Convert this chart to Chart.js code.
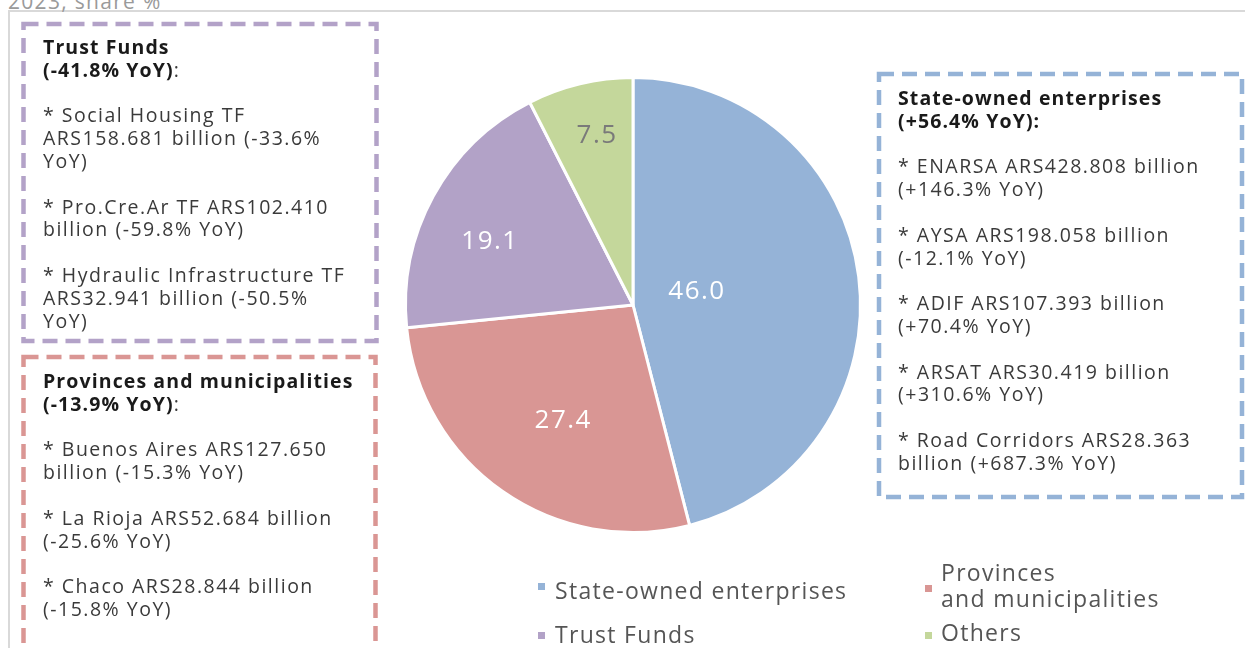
<!DOCTYPE html>
<html>
<head>
<meta charset="utf-8">
<script src="https://cdn.jsdelivr.net/npm/chart.js@4"></script>
<style>
  html, body { margin: 0; padding: 0; background: #fff; }
  body { width: 1245px; height: 648px; position: relative; overflow: hidden; font-family: "Open Sans", "Noto Sans", sans-serif; }
  #chartWrap { position: absolute; left: 0; top: 0; width: 1245px; height: 648px; }
  .frame { position: absolute; left: 8px; top: 10px; width: 1300px; height: 700px; border-left: 2px solid #d9d9d9; border-top: 2px solid #d9d9d9; }
  .subtitle { position: absolute; left: 8px; top: -13px; font-size: 21px; letter-spacing: 1.3px; color: #9a9a9a; }
  svg.boxes { position: absolute; left: 0; top: 0; }
  .note { position: absolute; font-size: 19.5px; letter-spacing: 1.5px; line-height: 22.8px; color: #3a3a3a; white-space: nowrap; }
  .note b { color: #1a1a1a; letter-spacing: 1.1px; }
  .note p { margin: 0 0 22.8px 0; }
  #legend { position: absolute; left: 538px; top: 560px; font-size: 23px; letter-spacing: 1.3px; color: #555; }
  .lg { position: absolute; white-space: nowrap; line-height: 26px; }
  .mk { position: absolute; width: 7px; height: 7px; }
</style>
</head>
<body>
<div class="frame"></div>
<div class="subtitle">2023, share %</div>
<div id="chartWrap"><canvas id="pie"></canvas></div>

<svg class="boxes" width="1245" height="648">
  <g fill="none" stroke-width="4.5" stroke-dasharray="15 8">
    <rect x="23.5" y="24" width="353" height="317" stroke="#b3a2c8"/>
    <rect x="23.5" y="357" width="352" height="320" stroke="#da9694"/>
    <rect x="879" y="74" width="363" height="423" stroke="#95b3d7"/>
  </g>
</svg>

<div class="note" style="left:43px; top:36px;">
  <p><b>Trust Funds<br>(-41.8% YoY)</b>:</p>
  <p>* Social Housing TF<br>ARS158.681 billion (-33.6%<br>YoY)</p>
  <p>* Pro.Cre.Ar TF ARS102.410<br>billion (-59.8% YoY)</p>
  <p>* Hydraulic Infrastructure TF<br>ARS32.941 billion (-50.5%<br>YoY)</p>
</div>
<div class="note" style="left:43px; top:370px;">
  <p><b>Provinces and municipalities<br>(-13.9% YoY)</b>:</p>
  <p>* Buenos Aires ARS127.650<br>billion (-15.3% YoY)</p>
  <p>* La Rioja ARS52.684 billion<br>(-25.6% YoY)</p>
  <p>* Chaco ARS28.844 billion<br>(-15.8% YoY)</p>
</div>
<div class="note" style="left:898px; top:87px;">
  <p><b>State-owned enterprises<br>(+56.4% YoY):</b></p>
  <p>* ENARSA ARS428.808 billion<br>(+146.3% YoY)</p>
  <p>* AYSA ARS198.058 billion<br>(-12.1% YoY)</p>
  <p>* ADIF ARS107.393 billion<br>(+70.4% YoY)</p>
  <p>* ARSAT ARS30.419 billion<br>(+310.6% YoY)</p>
  <p>* Road Corridors ARS28.363<br>billion (+687.3% YoY)</p>
</div>
<div id="legend"></div>

<script>
// share of total, %
const categories = ['State-owned enterprises', 'Provinces and municipalities', 'Trust Funds', 'Others'];
const shares = [46.0, 27.4, 19.1, 7.5];
const colors = ['#95b3d7', '#d99694', '#b2a2c7', '#c4d79b'];
const labelColors = ['#ffffff', '#ffffff', '#ffffff', '#7a7a7a'];

// where each value label sits: fraction of radius, and a small turn (deg) off the slice middle
const labelDist = [0.287, 0.595, 0.687, 0.76];
const labelTurn = [-4.3, -3.9, -4.8, 1.5];

const valueLabels = {
  id: 'valueLabels',
  afterDatasetsDraw(chart) {
    const ctx = chart.ctx;
    const meta = chart.getDatasetMeta(0);
    ctx.save();
    ctx.font = '26px "Open Sans", sans-serif';
    ctx.letterSpacing = '1.5px';
    ctx.textAlign = 'center';
    ctx.textBaseline = 'middle';
    meta.data.forEach(function (arc, i) {
      const mid = (arc.startAngle + arc.endAngle) / 2 + labelTurn[i] * Math.PI / 180;
      const r = arc.outerRadius * labelDist[i];
      ctx.fillStyle = labelColors[i];
      ctx.fillText(shares[i].toFixed(1), arc.x + Math.cos(mid) * r, arc.y + Math.sin(mid) * r);
    });
    ctx.restore();
  }
};

new Chart(document.getElementById('pie'), {
  type: 'pie',
  data: {
    labels: categories,
    datasets: [{
      data: shares,
      backgroundColor: colors,
      borderColor: '#ffffff',
      borderWidth: 3,
      hoverOffset: 0
    }]
  },
  options: {
    responsive: true,
    maintainAspectRatio: false,
    animation: false,
    layout: { padding: { left: 404, right: 383, top: 76, bottom: 114 } },
    plugins: {
      legend: { display: false },
      tooltip: { enabled: false }
    }
  },
  plugins: [valueLabels]
});

// legend laid out like the original (2 x 2); relative to #legend
const legendText = ['State-owned enterprises', 'Provinces<br>and municipalities', 'Trust Funds', 'Others'];
const legendBox = [[0, 23], [387, 25], [0, 72], [387, 72]];
const legendLine = [[17, 17], [403, -1], [17, 61], [403, 59]];
const lg = document.getElementById('legend');
categories.forEach(function (c, i) {
  const m = document.createElement('div');
  m.className = 'mk';
  m.style.background = colors[i];
  m.style.left = legendBox[i][0] + 'px';
  m.style.top = legendBox[i][1] + 'px';
  lg.appendChild(m);
  const t = document.createElement('div');
  t.className = 'lg';
  t.style.left = legendLine[i][0] + 'px';
  t.style.top = legendLine[i][1] + 'px';
  t.innerHTML = legendText[i];
  lg.appendChild(t);
});
</script>
</body>
</html>
